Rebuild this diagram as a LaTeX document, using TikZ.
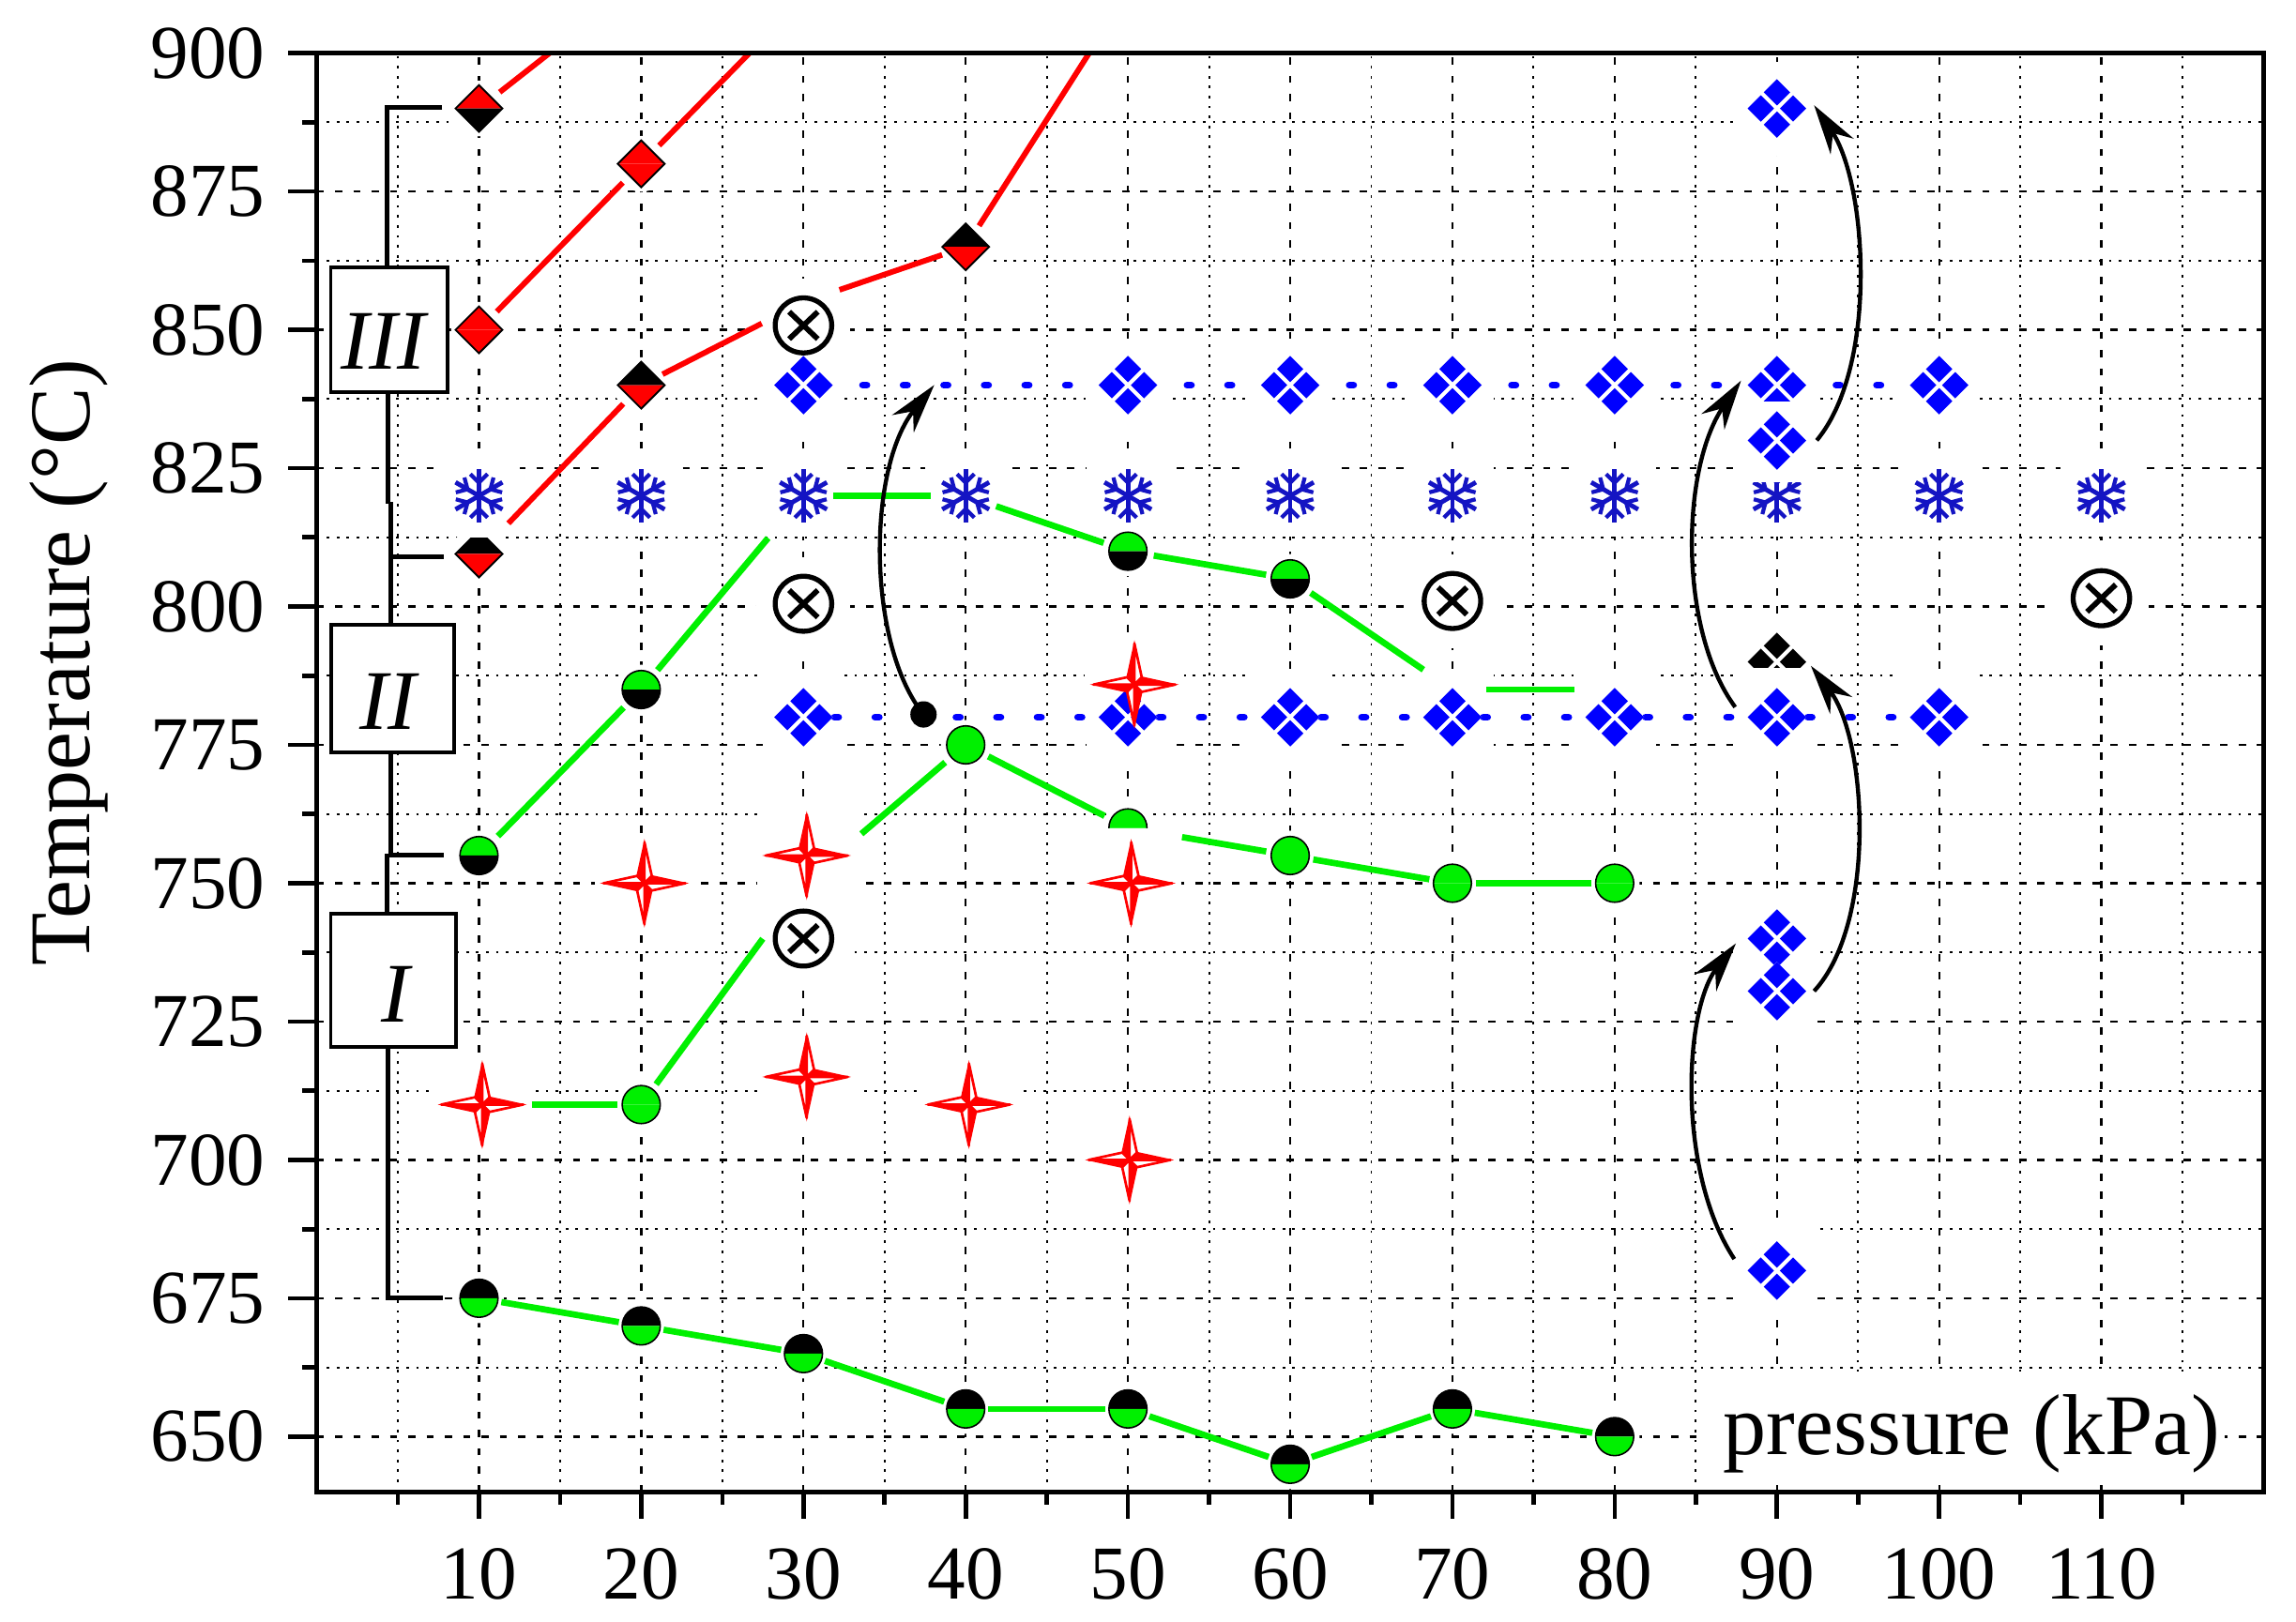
\documentclass[tikz,border=0pt]{standalone}
\usepackage{fontspec}
\setmainfont{Liberation Serif}
\usetikzlibrary{arrows.meta}
\definecolor{cred}{RGB}{255,0,0}
\definecolor{cgreen}{RGB}{0,240,0}
\definecolor{cblue}{RGB}{0,0,255}
\definecolor{csnow}{RGB}{20,20,195}
\newcommand\tickfont{\fontsize{14.8}{17}\selectfont}
\newcommand\titlefont{\fontsize{16.8}{19}\selectfont}
\newcommand\romfont{\fontsize{16.5}{19}\selectfont\itshape}
\newcommand\dpt[3]{\coordinate (#1) at ({xp(#2)},{yt(#3)});}
\tikzset{
  majg/.style={black,line width=0.15mm,dash pattern=on 0.5mm off 0.75mm},
  ming/.style={black,line width=0.12mm,dash pattern=on 0.18mm off 0.5mm},
  gline/.style={cgreen,line width=0.43mm},
  rline/.style={cred,line width=0.38mm},
  bline/.style={cblue,line width=0.48mm,line cap=round,dash pattern=on 0.28mm off 2.49mm},
  frame/.style={black,line width=0.3mm},
  tickline/.style={black,line width=0.3mm},
  bracket/.style={black,line width=0.32mm},
  romanbox/.style={draw=black,line width=0.25mm,fill=white,inner sep=0pt},
  arr/.style={black,line width=0.28mm,-{Stealth[length=3.4mm,width=1.9mm,inset=1.1mm]}},
  pics/hcirc/.style 2 args={code={
    \fill[#1] (-13,0) arc[start angle=180,end angle=360,radius=13] -- cycle;
    \fill[#2] (13,0) arc[start angle=0,end angle=180,radius=13] -- cycle;
    \draw[black,line width=0.1mm] (0,0) circle[radius=13];
  }},
  pics/dmd/.style 2 args={code={
    \fill[#1] (-16,0) -- (0,-16) -- (16,0) -- cycle;
    \fill[#2] (-16,0) -- (0,16) -- (16,0) -- cycle;
    \draw[black,line width=0.12mm] (-16,0) -- (0,-16) -- (16,0) -- (0,16) -- cycle;
  }},
  pics/star4/.style={code={
    \foreach \rr in {0,90,180,270}{
      \begin{scope}[rotate=\rr]
        \fill[cred] (0,0) -- (0,-28) -- (-5,-5) -- cycle;
        \filldraw[fill=white,draw=cred,line width=0.17mm,line join=round] (0,0) -- (0,-28) -- (5,-5) -- cycle;
      \end{scope}
    }
    \draw[cred,line width=0.1mm,line join=miter] (0,-28) -- (5,-5) -- (28,0) -- (5,5) -- (0,28) -- (-5,5) -- (-28,0) -- (-5,-5) -- cycle;
  }},
  pics/otimes/.style={code={
    \draw[black,fill=white,line width=0.34mm] (0,0) ellipse[x radius=19.3,y radius=18.8];
    \draw[black,line width=0.37mm] (-9.8,-9.3) -- (9.8,9.3) (-9.8,9.3) -- (9.8,-9.3);
  }},
  pics/snow/.style={code={
    \foreach \aa in {30,90,150,210,270,330}{
      \draw[csnow,line width=0.31mm] (0,0) -- (\aa:18.5);
      \draw[csnow,line width=0.27mm] (\aa:9) -- ++({\aa+45}:8.3) (\aa:9) -- ++({\aa-45}:8.3);
    }
  }},
  pics/qdia/.style={code={
    \fill[white] (20,0) -- (0,20) -- (-20,0) -- (0,-20) -- cycle;
    \foreach \dx/\dy in {11/0,-11/0,0/11,0/-11}
      \fill[#1] ({\dx+9},\dy) -- (\dx,{\dy+9}) -- ({\dx-9},\dy) -- (\dx,{\dy-9}) -- cycle;
  }},
}
\begin{document}
\begin{tikzpicture}[x=0.1mm,y=-0.1mm,declare function={xp(\pv)=216.3+11.08*\pv;yt(\tv)=36.3+(900-\tv)*3.78;}]
\useasboundingbox (0,0) rectangle (1568,1107.9);
\fill[white] (0,0) rectangle (1568,1107.9);
\dpt{ll}{0}{640}
\dpt{ur}{120}{900}
% ---------- grid
\begin{scope}
\clip (ll) rectangle (ur);
\foreach \xx in {5,15,...,115} \draw[ming] ({xp(\xx)},{yt(640)}) -- ({xp(\xx)},{yt(900)});
\foreach \xx in {10,20,...,110} \draw[majg] ({xp(\xx)},{yt(640)}) -- ({xp(\xx)},{yt(900)});
\foreach \yy in {662.5,687.5,...,887.5} \draw[ming] ({xp(0)},{yt(\yy)}) -- ({xp(120)},{yt(\yy)});
\foreach \yy in {650,675,...,875} \draw[majg] ({xp(0)},{yt(\yy)}) -- ({xp(120)},{yt(\yy)});
\end{scope}
% ---------- white gaps of the grid around symbols
\foreach \xx/\yy/\hw/\hh in {30/850.8/32/32,30/800.5/32/32,30/740/32/32,70/801/32/32,110/801.5/32/32,
  30/840/28/32,50/840/28/32,60/840/28/32,70/840/28/32,80/840/28/32,90/840/28/32,100/840/28/32,90/830/28/32,90/890/28/32,
  30/780/28/32,50/780/28/32,60/780/28/32,70/780/28/32,80/780/28/32,90/780/28/32,100/780/28/32,90/740/28/32,90/730.5/28/32,90/680/28/32,90/790/28/28,
  10.2/710/34/34,20.2/750/34/34,30.2/755/34/34,30.2/715/34/34,40.2/710/34/34,50.4/785.9/34/34,50.2/750/34/34,50.1/700/34/34}
  \fill[white] ({xp(\xx)-\hw},{yt(\yy)-\hh}) rectangle ({xp(\xx)+\hw},{yt(\yy)+\hh});
\foreach \xx in {10,20,...,110} \fill[white] ({xp(\xx)-28},{yt(820)-28}) rectangle ({xp(\xx)+28},{yt(820)+28});
\foreach \xx/\yy/\rr in {10/675/17,20/670/17,30/665/17,40/655/17,50/655/17,60/645/17,70/655/17,80/650/17,
  10/755/17,20/785/17,50/810/17,60/805/17,20/710/17,40/775/17,50/760/17,60/755/17,70/750/17,80/750/17,
  10/890/19,10/850/19,20/880/19,20/840/19,40/865/19,10/809.5/19,37.4/780.5/12}
  \fill[white] ({xp(\xx)},{yt(\yy)}) circle[radius=\rr];
\fill[white] (1165,937) rectangle (1519,1013);
% ---------- data coordinates
\dpt{g1a}{10}{675}\dpt{g1b}{20}{670}\dpt{g1c}{30}{665}\dpt{g1d}{40}{655}
\dpt{g1e}{50}{655}\dpt{g1f}{60}{645}\dpt{g1g}{70}{655}\dpt{g1h}{80}{650}
\dpt{g2a}{10}{710}\dpt{g2b}{20}{710}\dpt{g2c}{30}{750}\dpt{g2d}{40}{775}
\dpt{g2e}{50}{760}\dpt{g2f}{60}{755}\dpt{g2g}{70}{750}\dpt{g2h}{80}{750}
\dpt{g3a}{10}{755}\dpt{g3b}{20}{785}\dpt{g3c}{30}{820}\dpt{g3d}{40}{820}
\dpt{g3e}{50}{810}\dpt{g3f}{60}{805}\dpt{g3g}{70}{785}\dpt{g3h}{80}{785}
\dpt{ra1}{10}{890}\dpt{ra2}{20}{913}
\dpt{rb1}{10}{850}\dpt{rb2}{20}{880}\dpt{rb3}{30}{910}
\dpt{rc1}{10}{809.5}\dpt{rc2}{20}{840}\dpt{rc3}{30}{855}\dpt{rc4}{40}{865}\dpt{rc5}{50}{911}
\dpt{qu1}{30}{840}\dpt{qu8}{100}{840}
\dpt{ql1}{30}{780}\dpt{ql8}{100}{780}
\dpt{dot}{37.4}{780.5}
% ---------- data lines
\begin{scope}
\clip (ll) rectangle (ur);
\draw[gline,shorten <=1.55mm,shorten >=1.55mm] (g1a) -- (g1b);
\draw[gline,shorten <=1.55mm,shorten >=1.55mm] (g1b) -- (g1c);
\draw[gline,shorten <=1.55mm,shorten >=1.55mm] (g1c) -- (g1d);
\draw[gline,shorten <=1.55mm,shorten >=1.55mm] (g1d) -- (g1e);
\draw[gline,shorten <=1.55mm,shorten >=1.55mm] (g1e) -- (g1f);
\draw[gline,shorten <=1.55mm,shorten >=1.55mm] (g1f) -- (g1g);
\draw[gline,shorten <=1.55mm,shorten >=1.55mm] (g1g) -- (g1h);
\draw[gline,shorten <=3.6mm,shorten >=1.63mm] (g2a) -- (g2b);
\draw[gline,shorten <=1.72mm,shorten >=4.7mm] (g2b) -- (g2c);
\draw[gline,shorten <=5.2mm,shorten >=1.84mm] (g2c) -- (g2d);
\draw[gline,shorten <=1.73mm,shorten >=1.79mm] (g2d) -- (g2e);
\draw[gline,shorten <=3.75mm,shorten >=1.66mm] (g2e) -- (g2f);
\draw[gline,shorten <=1.6mm,shorten >=1.6mm] (g2f) -- (g2g);
\draw[gline,shorten <=1.6mm,shorten >=1.6mm] (g2g) -- (g2h);
\draw[gline,shorten <=1.85mm,shorten >=1.72mm] (g3a) -- (g3b);
\draw[gline,shorten <=1.73mm,shorten >=3.76mm] (g3b) -- (g3c);
\draw[gline,shorten <=2.06mm,shorten >=2.37mm] (g3c) -- (g3d);
\draw[gline,shorten <=2.2mm,shorten >=1.75mm] (g3d) -- (g3e);
\draw[gline,shorten <=1.79mm,shorten >=1.67mm] (g3e) -- (g3f);
\draw[gline,shorten <=1.7mm,shorten >=2.4mm] (g3f) -- (g3g);
\draw[gline,shorten <=2.3mm,shorten >=2.77mm] (g3g) -- (g3h);
\draw[rline,shorten <=1.8mm] (ra1) -- (ra2);
\draw[rline,shorten <=1.74mm,shorten >=1.8mm] (rb1) -- (rb2);
\draw[rline,shorten <=1.75mm] (rb2) -- (rb3);
\draw[rline,shorten <=2.9mm,shorten >=1.77mm] (rc1) -- (rc2);
\draw[rline,shorten <=1.64mm,shorten >=3.2mm] (rc2) -- (rc3);
\draw[rline,shorten <=2.6mm,shorten >=1.7mm] (rc3) -- (rc4);
\draw[rline,shorten <=1.7mm] (rc4) -- (rc5);
\end{scope}
\draw[bline,dash phase=1.495mm] (qu1) -- (qu8);
\draw[bline,dash phase=0.655mm] (ql1) -- (ql8);
% ---------- frame, ticks, labels
\draw[frame] (ll) rectangle (ur);
\foreach \yy in {650,675,...,900} \draw[tickline] ({xp(0)},{yt(\yy)}) -- ++(-19.6,0);
\foreach \yy in {662.5,687.5,...,887.5} \draw[tickline] ({xp(0)},{yt(\yy)}) -- ++(-10,0);
\foreach \xx in {10,20,...,110} \draw[tickline] ({xp(\xx)},{yt(640)}) -- ++(0,18.5);
\foreach \xx in {5,15,...,115} \draw[tickline] ({xp(\xx)},{yt(640)}) -- ++(0,9);
\foreach \yy in {650,675,...,900} \node[anchor=east,inner sep=0pt,font=\tickfont] (ty\yy) at (181.7,{yt(\yy)}) {\yy};
\foreach \xx in {10,20,...,110} \node[inner sep=0pt,font=\tickfont] (tx\xx) at ({xp(\xx)},1075.5) {\xx};
\node[rotate=90,anchor=base,inner sep=0pt,font=\titlefont] (ytitle) at (61.4,452.5) {Temperature (°C)};
\node[anchor=base west,inner sep=0pt,font=\titlefont] (xtitle) at (1176.3,993.3) {pressure (kPa)};
% ---------- bracket and stage boxes
\draw[bracket] (302,73.7) -- (264.6,73.7) -- (264.6,183);
\draw[bracket] (265,268) -- (265,344);
\draw[bracket] (267.2,343) -- (267.2,427);
\draw[bracket] (267.2,380.2) -- (303.2,380.2);
\draw[bracket] (267.2,514) -- (267.2,584);
\draw[bracket] (265.6,584) -- (303.2,584);
\draw[bracket] (264.4,583) -- (264.4,625);
\draw[bracket] (264.8,715) -- (264.8,886.8) -- (302.6,886.8);
\node[romanbox,minimum width=7.98mm,minimum height=8.54mm] (b3) at (265.8,225.3) {};
\node[romanbox,minimum width=8.4mm,minimum height=8.7mm] (b2) at (268,470.5) {};
\node[romanbox,minimum width=8.54mm,minimum height=9.06mm] (b1) at (268.6,669.7) {};
\node[inner sep=0pt,font=\romfont] (t3) at (262,233) {III};
\node[inner sep=0pt,font=\romfont] (t2) at (265,479) {II};
\node[inner sep=0pt,font=\romfont] (t1) at (270,679) {I};
% ---------- symbols
\foreach \c in {g1a,g1b,g1c,g1d,g1e,g1f,g1g,g1h} \pic at (\c) {hcirc={black}{cgreen}};
\foreach \c in {g3a,g3b,g3e,g3f} \pic at (\c) {hcirc={cgreen}{black}};
\foreach \c in {g2b,g2d,g2f,g2g,g2h} \pic at (\c) {hcirc={cgreen}{cgreen}};
\begin{scope}
\clip ({xp(50)-20},{yt(760)-20}) rectangle ({xp(50)+20},{yt(760)});
\pic at (g2e) {hcirc={cgreen}{cgreen}};
\end{scope}
\pic at (ra1) {dmd={cred}{black}};
\pic at (rb1) {dmd={cred}{cred}};
\pic at (rb2) {dmd={cred}{cred}};
\pic at (rc2) {dmd={black}{cred}};
\pic at (rc4) {dmd={black}{cred}};
\begin{scope}
\clip ({xp(10)-25},367.4) rectangle ({xp(10)+25},{yt(809.5)+25});
\pic at (rc1) {dmd={black}{cred}};
\end{scope}
% blue clusters
\foreach \xx/\yy in {30/840,50/840,60/840,70/840,80/840,100/840,90/890,
  30/780,50/780,60/780,70/780,80/780,100/780,90/740,90/730.5,90/680}
  \pic at ({xp(\xx)},{yt(\yy)}) {qdia=cblue};
\begin{scope}
\clip ({xp(90)-25},{yt(840)-25}) rectangle ({xp(90)+25},{yt(840)+11});
\pic at ({xp(90)},{yt(840)}) {qdia=cblue};
\end{scope}
\begin{scope}
\clip ({xp(90)-25},{yt(790)-25}) rectangle ({xp(90)+25},{yt(790)+4});
\pic at ({xp(90)},{yt(790)}) {qdia=black};
\end{scope}
\pic at ({xp(90)},{yt(780)}) {qdia=cblue};
% stars
\foreach \xx/\yy in {10.2/710,20.2/750,30.2/755,30.2/715,40.2/710,50.4/785.9,50.2/750,50.1/700}
  \pic at ({xp(\xx)},{yt(\yy)}) {star4};
% snowflakes
\foreach \xx in {10,20,30,40,50,60,70,80,100,110} \pic at ({xp(\xx)},{yt(820)}) {snow};
\begin{scope}
\clip ({xp(90)-25},{yt(820)-9}) rectangle ({xp(90)+25},{yt(820)+25});
\pic at ({xp(90)},{yt(820)}) {snow};
\end{scope}
\pic at ({xp(90)},{yt(830)}) {qdia=cblue};
% crossed circles
\foreach \xx/\yy in {30/850.8,30/800.5,30/740,70/801,110/801.5}
  \pic at ({xp(\xx)},{yt(\yy)}) {otimes};
% ---------- arrows
\coordinate (a1e) at (638,263);
\coordinate (aas) at (1184.4,860);  \coordinate (aae) at (1185.5,644.4);
\coordinate (abs) at (1185,483);    \coordinate (abe) at (1189,260);
\coordinate (acs) at (1238.9,677);  \coordinate (ace) at (1236.7,454.8);
\coordinate (ads) at (1240.7,300.8);\coordinate (ade) at (1238.9,71.9);
\draw[arr] (dot) .. controls (592,440) and (592,320) .. (a1e);
\fill[black] (dot) circle[radius=9];
\draw[arr] (aas) .. controls (1145,800) and (1150,690) .. (aae);
\draw[arr] (abs) .. controls (1146,430) and (1148,320) .. (abe);
\draw[arr] (acs) .. controls (1282,630) and (1275,505) .. (ace);
\draw[arr] (ads) .. controls (1283,250) and (1275,125) .. (ade);
\end{tikzpicture}
\end{document}
